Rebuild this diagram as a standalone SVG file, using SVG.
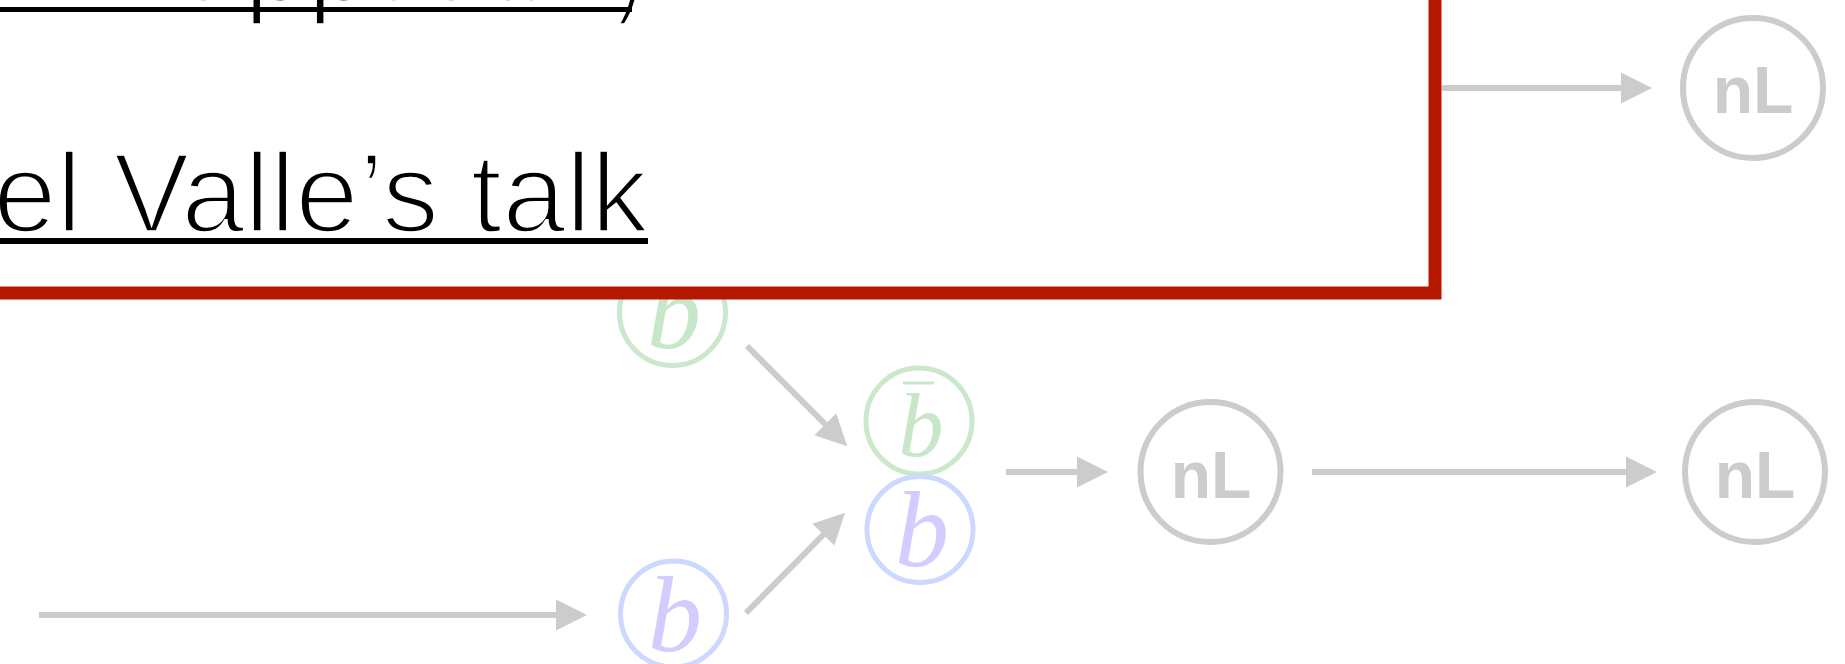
<svg xmlns="http://www.w3.org/2000/svg" width="1845" height="664" viewBox="0 0 1845 664">
<defs>
<marker id="ah" markerUnits="userSpaceOnUse" markerWidth="34" markerHeight="34" viewBox="0 -17 34 34" refX="1" refY="0" orient="auto">
<path d="M0,-15.5 L31,0 L0,15.5 Z" fill="#cccccc"/>
</marker>
<style>
.conn{stroke:#cccccc;stroke-width:6;fill:none;marker-end:url(#ah)}
.nl circle{fill:none;stroke:#cccccc;stroke-width:6}
.nl text{font-family:"Liberation Sans",Arial,sans-serif;font-weight:bold;font-size:66px;fill:#cccccc;text-anchor:middle}
.g circle{fill:none;stroke:#cce8cc;stroke-width:5}
.g text{fill:#c8e6c8}
.bl circle{fill:none;stroke:#ccd8ff;stroke-width:5}
.bl text{fill:#d2ccff}
.bq{font-family:"Liberation Serif","Times New Roman",serif;font-style:italic;text-anchor:middle;font-size:108px}
.title{font-family:"Liberation Sans",Arial,sans-serif;font-size:114px;fill:#000000;stroke:#ffffff;stroke-width:3.5px}
</style>
</defs>
<rect x="0" y="0" width="1845" height="664" fill="#ffffff"/>
<g id="connectors">
<line class="conn" x1="1442" y1="88" x2="1622" y2="88"/>
<line class="conn" x1="1312" y1="472" x2="1627" y2="472"/>
<line class="conn" x1="1006" y1="472" x2="1078" y2="472"/>
<line class="conn" x1="747" y1="346" x2="826" y2="425"/>
<line class="conn" x1="746" y1="613" x2="824" y2="534"/>
<line class="conn" x1="39" y1="615" x2="557" y2="615"/>
</g>
<g id="nL-top" class="nl"><circle cx="1753" cy="88" r="70"/><text x="1753" y="113">nL</text></g>
<g id="nL-mid" class="nl"><circle cx="1210.5" cy="472" r="70"/><text x="1211" y="498">nL</text></g>
<g id="nL-right" class="nl"><circle cx="1755" cy="472" r="70"/><text x="1755" y="498">nL</text></g>
<g id="b-green" class="g"><circle cx="672.5" cy="312.5" r="53"/><text class="bq" x="674" y="348">b</text></g>
<g id="bbar-green" class="g"><circle cx="919" cy="421" r="53"/><text class="bq" x="921" y="456" style="font-size:90px">b</text><line x1="903" y1="383" x2="934" y2="383" stroke="#c8e6c8" stroke-width="3"/></g>
<g id="b-blue-mid" class="bl"><circle cx="920" cy="529.5" r="53"/><text class="bq" x="922" y="566">b</text></g>
<g id="b-blue-low" class="bl"><circle cx="673.5" cy="614" r="53"/><text class="bq" x="675" y="651">b</text></g>
<g id="callout">
<rect x="-30" y="-30" width="1465" height="323" fill="#ffffff" stroke="#b41900" stroke-width="13"/>
<text class="title" y="1"><tspan x="-41">A. Rapp</tspan><tspan textLength="273" lengthAdjust="spacingAndGlyphs">e’s talk)</tspan></text>
<rect x="-10" y="7" width="642" height="5" fill="#000000"/>
<text class="title" x="648" y="232" text-anchor="end">el Valle’s talk</text>
<rect x="-10" y="238" width="658" height="6" fill="#000000"/>
</g>
</svg>
